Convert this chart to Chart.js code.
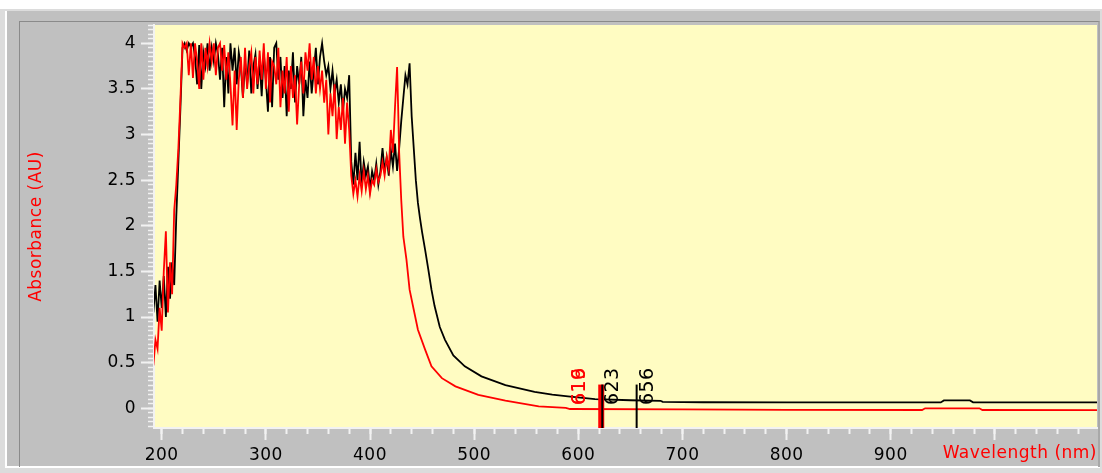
<!DOCTYPE html>
<html><head><meta charset="utf-8">
<script src="https://cdn.jsdelivr.net/npm/chart.js@4.4.1/dist/chart.umd.min.js"></script>
<style>
html,body{margin:0;padding:0;background:#fff;width:1102px;height:473px;overflow:hidden;position:relative}
#f1{position:absolute;left:0;top:9px;width:1102px;height:464px;background:#dcdcdc}
#f2{position:absolute;left:5px;top:11px;width:1095px;height:457px;background:#c0c0c0;border-left:2px solid #fff;border-bottom:2px solid #fff;box-sizing:border-box}
#f3{position:absolute;left:19px;top:21px;width:1081px;height:446px;border-left:1px solid #8a8a8a;border-top:1px solid #8a8a8a;border-right:2px solid #a8a8a8;box-sizing:border-box}
canvas{position:absolute;left:0;top:0}
</style></head>
<body>
<div id="f1"></div><div id="f2"></div><div id="f3"></div>
<canvas id="c" width="1102" height="473"></canvas>
<script>
const blackWl = [192,194,196,198,200,202,204,206,208,210,212,214,216,218,220,222,224,226,228,230,232,234,236,238,240,242,244,246,248,250,252,254,256,258,260,262,264,266,268,270,272,274,276,278,280,282,284,286,288,290,292,294,296,298,300,302,304,306,308,310,312,314,316,318,320,322,324,326,328,330,332,334,336,338,340,342,344,346,348,350,352,354,356,358,360,362,364,366,368,370,372,374,376,378,380,382,384,386,388,390,392,394,396,398,400,402,404,406,408,410,412,414,416,418,420,422,424,426,428,430,432,434,436,438,440,442,444,446,448,450,453,456,459,462,467,472,480,491,507,530,558,575,590,616,650,679,681,720,800,900,948,951,976,979,1050,1095,1098];
const blackAbs = [1.05,1.35,0.95,1.40,1.10,1.45,1.00,1.55,1.20,1.60,1.35,2.10,2.70,3.30,3.95,4.00,3.92,4.00,3.96,4.00,3.85,3.55,3.98,3.50,3.90,3.75,4.00,3.70,3.95,3.80,4.00,3.88,3.60,3.95,3.30,3.85,3.45,4.00,3.70,3.95,3.55,3.90,3.75,3.40,3.80,3.55,3.92,3.45,3.75,3.88,3.50,3.80,3.42,3.90,3.60,3.25,3.85,3.30,3.95,4.00,3.60,3.85,3.40,3.75,3.20,3.70,3.50,3.90,3.35,3.75,3.55,3.85,3.20,3.60,3.40,3.80,3.45,3.70,3.95,3.55,3.85,4.00,3.80,3.65,3.75,3.50,3.70,3.45,3.60,3.35,3.55,3.25,3.50,3.40,3.65,2.70,2.45,2.80,2.50,2.92,2.45,2.70,2.55,2.65,2.40,2.60,2.50,2.68,2.45,2.60,2.85,2.60,2.75,2.55,2.83,2.65,2.90,2.60,2.85,3.15,3.40,3.65,3.55,3.78,3.20,2.85,2.50,2.25,2.08,1.93,1.73,1.52,1.30,1.12,0.89,0.75,0.58,0.46,0.35,0.255,0.18,0.15,0.13,0.10,0.088,0.082,0.07,0.066,0.064,0.064,0.064,0.086,0.086,0.066,0.065,0.064,0.064];

const redWl = [192,194,196,198,200,202,204,206,208,210,212,214,216,218,220,222,224,226,228,230,232,234,236,238,240,242,244,246,248,250,252,254,256,258,260,262,264,266,268,270,272,274,276,278,280,282,284,286,288,290,292,294,296,298,300,302,304,306,308,310,312,314,316,318,320,322,324,326,328,330,332,334,336,338,340,342,344,346,348,350,352,354,356,358,360,362,364,366,368,370,372,374,376,378,380,382,384,386,388,390,392,394,396,398,400,402,404,406,408,410,412,414,416,418,420,422,424,426,427,428,430,432,435,438,442,446,453,459,469,482,504,530,562,588,592,700,800,930,933,985,988,1098];
const redAbs = [0.47,0.75,0.65,1.10,0.85,1.50,1.94,1.05,1.60,1.25,2.17,2.45,2.85,3.40,4.00,3.95,4.00,3.65,4.00,3.62,4.00,3.80,3.50,4.00,3.60,3.95,3.75,4.00,3.80,4.00,3.65,3.95,4.00,3.70,3.98,3.60,3.90,3.55,3.10,3.70,3.05,3.60,3.85,3.40,3.95,3.50,3.75,3.90,3.45,3.85,3.55,3.92,3.60,4.00,3.50,3.90,3.35,3.80,3.75,3.55,3.95,3.30,3.70,3.45,3.85,3.25,3.75,3.40,3.65,3.11,3.55,3.80,3.45,3.90,3.70,4.00,3.60,3.85,3.45,3.75,3.50,3.70,3.35,3.60,3.00,3.45,3.20,3.55,2.95,3.30,3.05,3.40,2.90,3.35,3.05,2.55,2.35,2.50,2.32,2.55,2.38,2.60,2.40,2.55,2.35,2.50,2.45,2.62,2.48,2.55,2.70,2.55,2.75,2.62,3.05,2.80,3.30,3.74,3.30,2.80,2.28,1.88,1.63,1.30,1.08,0.86,0.64,0.46,0.33,0.24,0.146,0.083,0.02,0.005,-0.008,-0.012,-0.017,-0.019,0.0,0.0,-0.019,-0.02];

const xMajorTicks = [200,300,400,500,600,700,800,900,1000];
const xTickLabels = ['200','300','400','500','600','700','800','900'];
const yMajorTicks = [0,0.5,1,1.5,2,2.5,3,3.5,4];
const yTickLabels = ['0','0.5','1','1.5','2','2.5','3','3.5','4'];

const redMarkerWl = [622];
const redMarkerLabels = ['619','616'];
const blackMarkerWl = [623,656];
const blackMarkerLabels = ['623','656'];
const markerSpan = [-0.3,0.26];
const markerLabelBase = 0.035;

const X_MIN = 192.6, X_MAX = 1098, Y_MIN = -0.216, Y_MAX = 4.2;
const FONT = 'DejaVu Sans';

const toXY = (xs, ys) => xs.map((x, i) => ({x, y: ys[i]}));
const vLine = wl => markerSpan.map(v => ({x: wl, y: v}));

const datasets = [
  {label:'red', data: toXY(redWl, redAbs), borderColor:'#ff0000', borderWidth:1.8, order:2},
  {label:'black', data: toXY(blackWl, blackAbs), borderColor:'#000000', borderWidth:1.8, order:3}
];
redMarkerWl.forEach(w => datasets.push({label:'rm', data: vLine(w), borderColor:'#ff0000', borderWidth:6, order:1, clip:0}));
blackMarkerWl.forEach(w => datasets.push({label:'bm', data: vLine(w), borderColor:'#000000', borderWidth:2, order:0, clip:0}));

const plotBg = {
  id:'plotBg',
  beforeInit(chart){ chart.ctx.letterSpacing = '0.5px'; },
  beforeDraw(chart){
    const {ctx, chartArea:a} = chart;
    ctx.save();
    ctx.fillStyle = '#fffcc2';
    ctx.fillRect(a.left, a.top, a.right - a.left, a.bottom - a.top);
    ctx.restore();
    ctx.letterSpacing = '0.5px';
  },
  afterDatasetsDraw(chart){
    const {ctx, scales:{x, y}} = chart;
    const yb = y.getPixelForValue(markerLabelBase);
    const draw = (txt, px, col) => {
      ctx.save();
      ctx.translate(px, yb);
      ctx.rotate(-Math.PI/2);
      ctx.font = '19px "' + FONT + '"';
      ctx.fillStyle = col;
      ctx.textAlign = 'left';
      ctx.textBaseline = 'middle';
      ctx.fillText(txt, 0, 0);
      ctx.restore();
    };
    redMarkerLabels.forEach(t => draw(t, x.getPixelForValue(redMarkerWl[0]) - 21, '#ff0000'));
    blackMarkerWl.forEach((w, i) => draw(blackMarkerLabels[i], x.getPixelForValue(w) + 11, '#000000'));
  }
};

const tickCol = '#f2f2f2';
new Chart(document.getElementById('c'), {
  type:'line',
  data:{datasets},
  plugins:[plotBg],
  options:{
    responsive:false, animation:false, devicePixelRatio:1,
    layout:{padding:{left:0, top:25, right:5, bottom:0}},
    elements:{point:{radius:0}, line:{tension:0}},
    plugins:{legend:{display:false}, tooltip:{enabled:false}},
    scales:{
      x:{type:'linear', position:'bottom', weight:1, min:X_MIN, max:X_MAX,
        afterBuildTicks: s => { s.ticks = xMajorTicks.map(v => ({value:v})); },
        afterFit: s => { s.height = 45; },
        ticks:{autoSkip:false, maxRotation:0, padding:5, color:'#000',
          font:{family:FONT, size:17},
          callback: v => xTickLabels.includes(String(v)) ? String(v) : ''},
        grid:{drawOnChartArea:false, tickLength:12, tickColor:tickCol, tickWidth:2},
        border:{display:true, color:tickCol, width:2},
        title:{display:true, text:'Wavelength (nm)', align:'end', color:'#ff0000',
          font:{family:FONT, size:17}, padding:{top:0, bottom:9}}
      },
      x2:{type:'linear', position:'bottom', weight:0, min:X_MIN, max:X_MAX,
        afterFit: s => { s.height = 0; },
        ticks:{display:false, stepSize:20, includeBounds:false},
        grid:{drawOnChartArea:false, tickLength:6, tickColor:tickCol, tickWidth:2},
        border:{display:false}
      },
      y:{type:'linear', position:'left', weight:1, min:Y_MIN, max:Y_MAX,
        afterBuildTicks: s => { s.ticks = yMajorTicks.map(v => ({value:v})); },
        afterFit: s => { s.width = 154; },
        ticks:{padding:5, color:'#000', font:{family:FONT, size:17},
          callback: v => { const i = yMajorTicks.indexOf(v); return i >= 0 ? yTickLabels[i] : ''; }},
        grid:{drawOnChartArea:false, tickLength:13, tickColor:tickCol, tickWidth:2},
        border:{display:true, color:tickCol, width:2},
        title:{display:true, text:'Absorbance (AU)', color:'#ff0000',
          font:{family:FONT, size:17}, padding:{top:26, bottom:0}}
      },
      y2:{type:'linear', position:'left', weight:0, min:Y_MIN, max:Y_MAX,
        afterFit: s => { s.width = 0; },
        ticks:{display:false, stepSize:0.05, includeBounds:false},
        grid:{drawOnChartArea:false, tickLength:6, tickColor:tickCol, tickWidth:1.5},
        border:{display:false}
      }
    }
  }
});
</script>
</body></html>
